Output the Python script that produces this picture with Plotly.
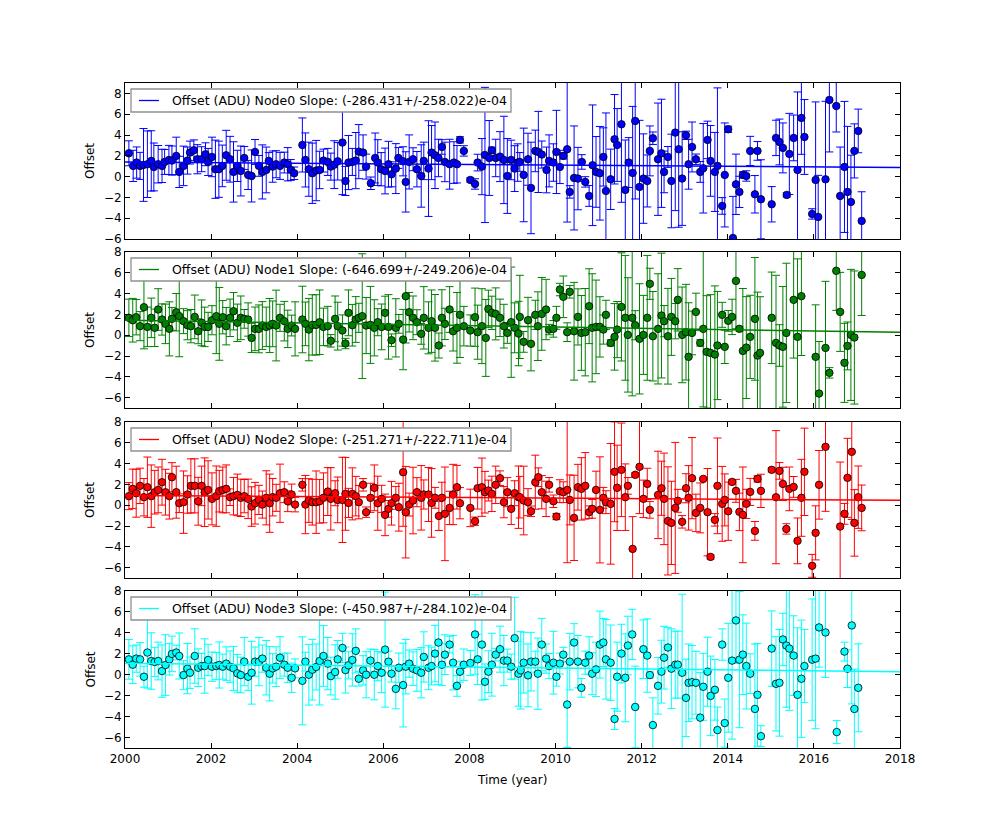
import plotly.graph_objects as go

# ---------------- data ----------------
NODE_NAMES = ["Node0", "Node1", "Node2", "Node3"]
COLORS = ["#0000ff", "#008000", "#ff0000", "#00ffff"]
SLOPES = [-286.431, -646.699, -251.271, -450.987]      # e-04 per year
SLOPE_ERRS = [258.022, 249.206, 222.711, 284.102]
FIT_AT_2000 = [1.40, 1.44, 0.93, 1.09]
Y_RANGES = [[-6, 9], [-7, 8], [-7, 8], [-7, 8]]
X_TICKS = [2000, 2002, 2004, 2006, 2008, 2010, 2012, 2014, 2016, 2018]
Y_TICKS = [-6, -4, -2, 0, 2, 4, 6, 8]

# Node0
T0 = [2000.09,2000.19,2000.27,2000.35,2000.43,2000.52,2000.61,2000.67,2000.77,2000.86,
      2000.92,2001.02,2001.09,2001.19,2001.26,2001.36,2001.45,2001.51,2001.60,2001.68,
      2001.78,2001.87,2001.93,2002.02,2002.10,2002.18,2002.26,2002.35,2002.44,2002.52,
      2002.61,2002.69,2002.77,2002.86,2002.94,2003.02,2003.11,2003.19,2003.28,2003.34,
      2003.43,2003.51,2003.60,2003.70,2003.78,2003.85,2003.93,2004.12,2004.19,2004.27,
      2004.35,2004.44,2004.52,2004.61,2004.71,2004.78,2004.86,2004.94,2005.05,2005.12,
      2005.19,2005.28,2005.36,2005.43,2005.53,2005.60,2005.71,2005.81,2005.87,2005.95,
      2006.04,2006.12,2006.19,2006.29,2006.35,2006.46,2006.52,2006.60,2006.69,2006.78,
      2006.88,2006.94,2007.05,2007.12,2007.20,2007.28,2007.36,2007.43,2007.54,2007.64,
      2007.71,2007.78,2007.87,2008.02,2008.13,2008.19,2008.29,2008.36,2008.46,2008.52,
      2008.61,2008.71,2008.80,2008.88,2008.97,2009.05,2009.12,
      2009.17,2009.26,2009.36,2009.43,2009.53,2009.60,2009.68,2009.79,2009.85,2009.95,
      2010.02,2010.10,2010.18,2010.27,2010.33,2010.43,2010.52,2010.61,2010.69,2010.78,
      2010.86,2010.94,2011.03,2011.11,2011.17,2011.28,2011.37,2011.43,2011.53,2011.62,
      2011.70,2011.79,2011.85,2011.95,2012.04,2012.13,2012.19,2012.26,2012.38,2012.46,
      2012.52,2012.61,2012.69,2012.78,2012.86,2012.94,2013.03,2013.09,2013.17,2013.26,
      2013.36,2013.43,2013.53,2013.60,2013.70,2013.76,2013.87,2013.93,2014.01,2014.12,
      2014.19,2014.27,2014.35,2014.43,2014.52,2014.63,2014.69,2014.77,2015.02,2015.12,
      2015.20,2015.28,2015.37,2015.43,2015.53,2015.62,2015.71,2015.78,2015.96,2016.04,
      2016.10,2016.27,2016.36,2016.52,2016.61,2016.71,2016.78,2016.86,2016.94,2017.03,
      2017.11]
Y0 = [2.24,1.03,1.35,1.03,1.12,1.19,1.51,0.93,1.19,1.03,
      1.41,1.60,1.54,1.99,0.45,1.03,1.54,2.31,2.53,1.67,
      1.67,2.15,1.41,1.89,0.71,0.71,1.03,2.05,1.67,0.45,
      1.03,0.54,1.79,0.16,0.06,2.37,1.03,0.45,0.64,1.51,
      0.96,1.19,1.03,1.35,1.19,0.64,0.32,3.04,1.60,0.71,
      0.32,0.58,0.64,1.54,1.41,0.96,1.15,1.47,3.27,-0.42,
      1.35,1.41,1.54,2.40,2.31,0.96,-0.64,1.79,1.35,0.71,
      0.54,1.19,0.22,0.77,1.79,1.47,-0.51,1.41,1.67,0.71,
      0.06,1.51,0.77,2.31,2.05,1.79,2.85,1.41,1.19,1.35,
      1.19,3.53,2.47,-0.32,-0.71,1.35,0.96,2.08,1.79,2.53,
      1.79,1.92,1.60,0.06,1.60,0.77,1.35,
      1.41,0.16,1.67,-1.09,2.47,2.37,2.12,0.64,1.51,1.35,
      2.37,0.93,1.99,2.63,-1.47,-0.13,-0.19,1.41,-0.51,-1.86,
      1.09,0.45,0.32,1.89,-1.38,-0.26,3.59,3.04,5.03,-1.28,
      1.35,0.35,5.35,-0.99,-0.19,-0.42,2.47,3.69,1.67,2.24,
      0.45,1.89,-0.42,4.23,2.63,-0.19,3.97,1.19,2.85,1.67,
      0.45,0.80,3.53,1.51,0.45,1.03,-2.82,0.16,4.55,-5.90,
      -0.74,-1.47,0.16,0.06,2.47,-1.70,2.47,-2.18,-2.66,3.72,
      3.33,2.76,-1.76,2.18,3.72,0.64,5.64,3.81,-3.59,-0.32,
      -3.88,-0.26,7.37,6.79,-1.86,0.93,-1.47,-2.44,2.47,4.39,
      -4.26]
E0 = [1.2,1.5,1.5,1.3,3.5,3.2,2.9,2.3,1.8,1.6,
      1.2,1.4,1.4,1.8,1.5,1.9,1.3,1.1,1.0,1.4,
      1.2,1.1,1.3,1.9,2.8,2.7,2.0,2.4,2.2,2.9,
      1.5,2.4,1.1,1.4,2.5,1.2,1.0,2.6,2.2,0.8,
      1.5,1.3,1.3,1.0,1.6,1.0,0.6,2.6,2.6,2.6,
      2.9,2.9,1.8,1.1,1.3,1.3,2.3,1.8,5.0,1.4,
      2.6,1.3,2.7,2.6,1.7,1.2,0.6,2.4,2.2,1.6,
      2.2,2.2,1.2,2.4,1.0,1.4,2.9,2.6,1.1,1.7,
      3.0,1.8,4.6,2.6,3.2,1.8,0.7,1.9,2.4,2.0,
      1.8,0.3,0.5,0.2,0.5,0.8,2.7,6.5,3.6,0.3,
      1.8,2.4,4.2,3.6,1.9,2.2,1.8,
      0.9,4.5,2.5,4.4,2.0,3.9,1.3,2.2,2.5,1.8,
      4.0,1.6,0.3,7.0,0.6,5.0,3.0,0.7,0.5,1.0,
      5.8,3.4,4.5,2.8,7.5,2.9,4.3,3.5,7.5,4.8,
      2.4,6.4,7.5,6.4,4.3,2.5,2.4,0.6,5.4,5.2,
      2.0,1.0,4.5,7.5,7.5,4.5,0.4,2.4,2.4,0.5,
      1.0,4.3,1.8,3.4,3.8,7.5,0.8,5.0,0.3,4.0,
      2.9,1.5,0.3,0.5,1.4,1.8,0.9,3.8,1.7,1.7,
      2.2,2.4,0.2,3.9,2.2,7.5,3.5,3.6,0.5,7.5,
      4.0,7.5,5.0,2.5,4.7,6.3,6.3,4.5,2.6,2.1,
      2.8]

# Node1
T1 = [2000.09,2000.18,2000.26,2000.35,2000.44,2000.52,2000.61,2000.69,2000.77,2000.86,
      2000.94,2001.03,2001.09,2001.19,2001.26,2001.36,2001.45,2001.53,2001.62,2001.70,
      2001.78,2001.85,2001.93,2002.02,2002.12,2002.19,2002.27,2002.35,2002.44,2002.52,
      2002.61,2002.69,2002.77,2002.86,2002.94,2003.02,2003.11,2003.19,2003.28,2003.36,
      2003.43,2003.51,2003.60,2003.70,2003.78,2003.87,2003.95,2004.12,2004.19,2004.27,
      2004.35,2004.44,2004.52,2004.61,2004.71,2004.78,2004.88,2004.94,2005.05,2005.12,
      2005.19,2005.28,2005.36,2005.43,2005.51,2005.60,2005.70,2005.79,2005.87,2005.96,
      2006.04,2006.12,2006.19,2006.29,2006.36,2006.46,2006.52,2006.60,2006.69,2006.78,
      2006.88,2006.94,2007.05,2007.12,2007.20,2007.29,2007.36,2007.43,2007.54,2007.62,
      2007.71,2007.78,2007.87,2008.02,2008.13,2008.19,2008.29,2008.38,2008.44,2008.52,
      2008.61,2008.71,2008.80,2008.88,2008.97,2009.05,2009.14,
      2009.17,2009.26,2009.36,2009.43,2009.53,2009.59,2009.68,2009.78,2009.85,2009.95,
      2010.02,2010.10,2010.18,2010.27,2010.33,2010.43,2010.52,2010.60,2010.69,2010.78,
      2010.85,2010.94,2011.03,2011.11,2011.17,2011.28,2011.37,2011.43,2011.53,2011.62,
      2011.68,2011.78,2011.85,2011.95,2012.04,2012.13,2012.19,2012.26,2012.38,2012.46,
      2012.52,2012.61,2012.69,2012.78,2012.84,2012.94,2013.03,2013.09,2013.17,2013.26,
      2013.36,2013.43,2013.51,2013.60,2013.70,2013.76,2013.87,2013.93,2014.01,2014.10,
      2014.19,2014.27,2014.35,2014.43,2014.52,2014.63,2014.69,2014.75,2015.02,2015.12,
      2015.20,2015.28,2015.36,2015.53,2015.62,2015.71,2016.04,2016.12,2016.27,2016.36,
      2016.52,2016.61,2016.71,2016.78,2016.86,2016.94,2017.11]
Y1 = [1.67,1.44,1.73,0.87,2.69,0.80,1.67,0.71,2.47,1.51,
      1.09,0.61,1.57,2.21,1.83,1.35,0.96,0.87,1.76,0.38,
      1.19,0.80,0.80,1.44,1.83,1.09,1.73,0.87,1.67,2.31,
      1.19,1.67,1.57,1.51,-0.26,0.61,0.61,0.93,0.80,0.93,
      1.09,0.93,1.67,1.35,0.61,0.93,0.61,1.51,1.09,0.54,
      0.99,0.99,1.25,0.80,0.87,-0.54,1.57,0.87,0.45,-0.80,
      2.15,0.96,1.51,1.67,1.83,0.93,0.99,0.71,1.25,0.80,
      2.15,0.80,-0.48,0.71,1.09,-0.42,3.75,2.21,1.67,1.25,
      0.13,1.67,0.71,1.35,0.71,-0.99,1.67,1.09,2.47,0.38,
      0.71,1.96,0.87,0.45,1.73,0.29,0.87,-0.26,2.53,2.15,
      2.05,1.67,0.87,0.22,1.25,0.71,0.16,
      1.76,-0.64,1.44,-0.83,1.96,0.87,2.05,2.47,0.54,0.61,
      1.67,4.39,3.69,0.29,4.17,0.38,1.76,0.22,0.29,2.79,
      0.71,0.80,0.80,0.54,1.96,-0.74,-0.16,0.54,2.72,1.67,
      0.03,1.67,0.96,-0.35,0.03,1.67,4.94,-0.10,0.61,1.89,
      1.35,-0.10,1.76,1.35,3.40,0.03,0.29,-2.08,0.22,2.24,
      -0.74,0.61,-1.60,-1.70,-1.86,-0.99,1.96,-1.12,1.38,1.76,
      5.22,0.61,-1.51,-1.19,-0.16,1.57,-1.96,-1.70,1.67,-0.74,
      -0.99,-1.12,0.22,3.40,-0.16,3.75,-2.08,-5.61,-1.22,-3.62,
      6.19,2.24,-2.66,-1.03,0.03,-0.22,5.80]
E1 = [1.8,2.1,1.7,1.4,4.0,1.9,1.9,1.8,2.0,1.5,
      1.9,2.6,1.1,1.8,3.9,1.2,1.4,1.6,2.1,1.2,
      2.2,1.9,1.4,1.4,3.6,3.5,1.6,1.8,1.8,1.8,
      1.8,2.1,0.9,1.6,1.4,2.1,2.3,2.3,1.9,2.6,
      2.2,3.4,1.3,1.9,1.8,1.0,2.6,3.2,2.1,3.0,
      2.9,2.9,3.1,1.8,1.9,0.6,2.2,2.3,1.5,0.5,
      2.2,2.0,2.2,1.4,6.0,2.7,3.7,2.7,1.3,2.2,
      1.6,3.1,0.6,2.8,0.9,2.9,4.5,1.9,2.1,1.2,
      1.0,3.0,2.5,3.0,3.2,1.2,2.7,1.5,2.2,1.9,
      3.4,4.1,1.9,1.5,2.8,2.6,3.6,3.7,1.8,1.6,
      2.5,1.8,2.1,1.0,5.3,2.4,3.1,
      4.0,1.0,2.2,2.6,1.4,3.3,3.5,2.9,0.5,0.8,
      1.1,0.6,2.0,0.9,0.6,4.7,2.7,3.6,4.2,3.6,
      5.2,4.5,2.9,1.4,1.4,0.3,3.2,2.7,5.2,6.0,
      5.5,7.5,1.4,5.3,3.8,6.0,1.5,4.3,5.3,6.0,
      1.5,4.6,3.7,1.7,3.0,4.6,4.6,5.2,2.1,1.8,
      0.3,7.5,5.4,5.6,6.6,5.2,1.2,1.6,1.0,1.7,
      4.6,0.2,6.0,4.9,4.0,5.9,6.1,5.4,4.4,6.5,
      2.0,5.8,6.7,5.6,7.5,5.7,5.0,5.0,6.4,0.5,
      3.8,3.8,3.8,2.3,6.3,6.4,3.9]

# Node2
T2 = [2000.09,2000.18,2000.26,2000.35,2000.44,2000.52,2000.61,2000.69,2000.77,2000.86,
      2000.94,2001.03,2001.09,2001.19,2001.26,2001.36,2001.45,2001.53,2001.62,2001.70,
      2001.78,2001.85,2001.93,2002.02,2002.12,2002.19,2002.27,2002.35,2002.44,2002.52,
      2002.61,2002.69,2002.77,2002.86,2002.94,2003.02,2003.11,2003.19,2003.28,2003.36,
      2003.43,2003.51,2003.60,2003.70,2003.78,2003.87,2003.95,2004.12,2004.19,2004.27,
      2004.35,2004.44,2004.52,2004.61,2004.71,2004.78,2004.88,2004.94,2005.05,2005.12,
      2005.19,2005.28,2005.36,2005.43,2005.53,2005.60,2005.70,2005.79,2005.87,2005.96,
      2006.04,2006.12,2006.19,2006.29,2006.36,2006.46,2006.52,2006.60,2006.69,2006.78,
      2006.88,2006.94,2007.05,2007.12,2007.20,2007.29,2007.36,2007.43,2007.54,2007.62,
      2007.71,2007.78,2008.02,2008.13,2008.19,2008.29,2008.36,2008.44,2008.52,2008.61,
      2008.71,2008.80,2008.88,2008.97,2009.05,2009.14,
      2009.17,2009.26,2009.36,2009.43,2009.53,2009.60,2009.68,2009.78,2009.85,2009.95,
      2010.02,2010.10,2010.18,2010.27,2010.33,2010.43,2010.52,2010.60,2010.69,2010.78,
      2010.85,2010.94,2011.03,2011.11,2011.17,2011.28,2011.37,2011.43,2011.53,2011.62,
      2011.68,2011.79,2011.85,2011.95,2012.04,2012.13,2012.19,2012.38,2012.46,2012.52,
      2012.61,2012.69,2012.78,2012.84,2012.94,2013.03,2013.09,2013.17,2013.26,2013.36,
      2013.43,2013.53,2013.60,2013.70,2013.76,2013.87,2013.93,2014.01,2014.10,2014.19,
      2014.27,2014.35,2014.43,2014.52,2014.63,2014.69,2014.77,2015.02,2015.12,2015.20,
      2015.28,2015.36,2015.43,2015.53,2015.62,2015.71,2015.78,2015.96,2016.04,2016.12,
      2016.27,2016.61,2016.71,2016.78,2016.88,2016.94,2017.03,2017.11]
Y2 = [0.87,1.57,1.15,1.86,0.77,1.73,0.87,1.25,1.47,2.21,
      1.25,0.87,2.69,1.25,0.19,0.29,1.03,1.86,1.86,0.38,
      1.86,1.25,1.47,0.61,0.87,1.35,1.47,1.57,0.77,0.87,
      0.99,0.71,0.87,0.61,-0.13,0.19,0.51,0.06,0.71,0.19,
      0.77,0.71,1.15,1.25,0.38,1.03,0.06,1.96,0.06,0.45,
      0.29,0.29,0.38,0.71,1.31,0.61,1.15,0.51,0.51,1.09,
      0.22,1.09,0.87,0.29,1.96,-0.67,0.71,1.67,0.19,0.61,
      -0.93,-0.35,0.19,0.71,-0.19,3.17,-0.67,0.06,0.45,1.25,
      0.71,1.03,1.03,0.22,0.71,-1.03,0.71,-0.83,-0.26,1.03,
      1.73,0.19,-0.26,-1.54,1.63,1.73,1.25,1.41,1.09,1.96,
      2.60,0.29,1.25,-0.35,1.15,0.77,
      0.77,0.45,0.29,-0.58,2.21,2.69,1.25,0.61,1.96,0.38,
      -1.09,1.35,1.25,1.47,0.51,-1.22,1.73,1.57,1.86,-0.67,
      -0.35,1.47,-0.45,0.71,0.29,0.13,3.21,1.67,3.40,0.77,
      1.86,-4.20,2.92,3.69,0.61,2.05,-0.45,0.99,1.63,0.61,
      -1.51,-1.70,-0.26,0.42,-1.60,1.63,0.71,2.60,-0.74,-0.26,
      2.53,-0.67,-4.97,-1.41,1.86,0.13,0.51,-0.58,2.24,1.38,
      -0.64,-0.93,0.13,1.28,-2.47,2.53,1.38,3.40,0.77,3.30,
      2.05,-2.28,1.57,1.76,-3.43,0.71,3.21,-5.83,-2.66,1.96,
      5.61,-2.05,-0.83,2.63,5.13,-1.70,0.77,-0.26]
E2 = [1.3,1.9,2.3,1.7,1.8,2.9,3.0,2.1,2.2,2.2,
      2.2,2.2,1.4,2.5,0.9,3.0,1.8,2.6,2.6,2.3,
      1.9,3.3,2.8,2.5,2.9,2.0,2.2,2.3,0.8,1.8,
      2.0,1.8,1.6,1.9,1.9,2.0,1.4,1.3,2.6,2.8,
      1.8,1.3,2.8,1.0,1.0,1.0,0.7,0.6,2.8,2.1,
      2.2,3.0,2.1,2.4,2.3,3.0,1.2,2.2,4.1,3.5,
      1.4,2.5,1.9,1.6,0.6,0.5,1.4,2.2,2.6,1.3,
      2.0,0.8,2.1,1.1,2.3,5.2,4.4,1.1,3.2,1.4,
      3.1,1.4,2.6,3.3,1.0,1.4,1.5,4.5,1.6,2.9,
      2.1,1.5,1.8,0.4,2.0,2.8,2.0,1.0,1.7,1.8,
      0.7,1.5,1.4,1.5,1.2,3.0,
      2.0,3.3,1.3,0.5,2.6,0.9,1.6,1.7,0.7,0.6,
      0.3,1.1,1.0,7.0,2.4,4.1,2.2,3.0,3.2,0.6,
      0.9,1.8,5.1,1.0,1.1,5.8,4.8,4.1,4.5,3.2,
      0.8,3.1,0.2,4.5,1.8,1.5,0.8,4.2,2.6,4.4,
      5.2,4.0,6.3,1.1,0.6,1.4,3.1,3.9,1.8,2.4,
      0.1,4.2,0.2,0.6,4.6,3.6,2.5,2.8,0.2,1.1,
      1.8,4.6,1.4,1.3,0.9,0.3,1.6,0.2,6.4,0.8,
      1.6,0.5,2.1,1.0,2.2,3.7,4.2,1.1,2.6,3.3,
      6.2,6.2,1.0,3.8,6.5,3.2,3.0,2.2]

# Node3
T3 = [2000.09,2000.18,2000.26,2000.35,2000.44,2000.52,2000.61,2000.69,2000.77,2000.86,
      2000.94,2001.03,2001.09,2001.19,2001.26,2001.36,2001.45,2001.51,2001.62,2001.70,
      2001.78,2001.85,2001.93,2002.02,2002.12,2002.19,2002.27,2002.35,2002.44,2002.52,
      2002.61,2002.69,2002.77,2002.86,2002.94,2003.02,2003.11,2003.19,2003.28,2003.36,
      2003.43,2003.51,2003.60,2003.70,2003.78,2003.87,2003.95,2004.12,2004.19,2004.27,
      2004.35,2004.44,2004.52,2004.61,2004.71,2004.78,2004.88,2004.94,2005.05,2005.12,
      2005.19,2005.28,2005.36,2005.43,2005.53,2005.60,2005.70,2005.79,2005.87,2005.96,
      2006.04,2006.12,2006.19,2006.29,2006.36,2006.46,2006.52,2006.60,2006.69,2006.78,
      2006.88,2006.94,2007.05,2007.12,2007.20,2007.28,2007.36,2007.43,2007.54,2007.62,
      2007.71,2007.78,2007.87,2008.02,2008.13,2008.19,2008.29,2008.36,2008.44,2008.52,
      2008.61,2008.71,2008.80,2008.88,2008.97,2009.05,2009.14,
      2009.19,2009.26,2009.36,2009.43,2009.53,2009.59,2009.68,2009.78,2009.85,2009.95,
      2010.02,2010.10,2010.18,2010.27,2010.33,2010.43,2010.52,2010.60,2010.69,2010.78,
      2010.85,2010.94,2011.03,2011.11,2011.17,2011.28,2011.37,2011.43,2011.53,2011.62,
      2011.68,2011.78,2011.85,2012.04,2012.13,2012.19,2012.26,2012.38,2012.46,2012.52,
      2012.61,2012.69,2012.78,2012.84,2012.94,2013.03,2013.09,2013.17,2013.26,2013.36,
      2013.43,2013.53,2013.60,2013.70,2013.76,2013.87,2013.93,2014.01,2014.10,2014.19,
      2014.27,2014.35,2014.43,2014.52,2014.63,2014.69,2014.77,2015.02,2015.12,2015.20,
      2015.28,2015.36,2015.43,2015.53,2015.62,2015.71,2015.78,2015.96,2016.04,2016.12,
      2016.27,2016.53,2016.71,2016.78,2016.88,2016.94,2017.03]
Y3 = [1.47,0.96,1.54,1.47,-0.19,2.12,1.31,1.22,1.31,0.35,
      0.93,1.47,1.99,2.12,1.79,-0.03,0.58,0.19,1.79,0.67,
      0.83,0.83,1.41,0.77,0.83,0.93,0.77,1.06,0.77,0.61,
      0.13,-0.03,1.25,-0.19,0.19,1.25,1.25,1.54,0.67,0.10,
      0.61,0.77,1.63,0.96,0.67,-0.29,0.61,-0.58,1.25,0.00,
      0.48,0.74,1.31,1.79,1.06,-0.13,0.26,1.47,2.56,0.45,
      0.90,1.41,2.28,-0.38,0.42,0.00,1.35,0.00,0.83,0.19,
      2.40,1.25,0.10,-1.35,0.67,-0.99,0.77,1.06,0.58,0.42,
      0.19,1.70,0.67,0.83,2.02,3.08,0.96,1.92,2.88,1.15,
      -1.06,0.29,0.96,1.12,3.85,1.47,2.88,-0.67,0.29,0.96,
      1.92,2.44,1.35,1.35,0.77,3.49,0.10,
      0.42,1.15,-0.06,1.25,1.25,0.10,2.88,1.54,0.83,1.15,
      -0.19,1.06,1.92,-2.85,1.25,3.08,1.25,-1.25,1.15,1.83,
      0.10,0.51,2.88,3.08,1.47,1.15,-4.23,-0.19,2.02,-0.29,
      2.79,3.85,-3.08,2.44,1.83,-0.03,-4.81,-1.06,0.29,1.63,
      2.60,0.58,0.96,0.96,0.19,-2.21,-0.77,-0.71,-0.77,-4.10,
      -1.15,0.29,-2.02,-1.44,-5.29,2.88,-4.62,-0.29,1.35,5.19,
      1.44,1.92,0.83,0.10,-3.27,-1.92,-5.87,2.50,-0.87,-0.77,
      3.37,2.79,2.50,1.83,-1.92,-0.38,0.83,1.44,1.54,4.52,
      4.04,-5.48,2.21,0.58,4.71,-3.27,-1.25]
E3 = [1.9,1.8,1.3,1.6,1.0,3.4,2.7,1.4,1.8,2.5,
      2.9,1.5,1.7,0.7,2.2,1.4,2.4,1.5,2.6,1.8,
      1.2,2.6,1.5,1.4,1.3,2.2,1.2,1.6,1.5,2.1,
      1.8,1.7,2.3,1.3,3.0,1.4,2.3,1.3,2.6,2.6,
      1.4,1.9,2.0,1.1,1.4,1.4,0.9,4.2,0.9,2.9,
      2.9,2.2,4.2,2.9,2.5,1.8,2.6,1.8,1.4,2.2,
      1.3,2.5,2.1,0.7,1.4,2.2,1.1,2.4,1.4,1.9,
      5.5,1.0,0.8,1.9,1.4,4.0,2.6,1.3,1.6,2.0,
      2.4,2.4,2.1,1.8,2.7,4.0,2.0,1.9,0.8,2.6,
      1.0,1.0,1.5,1.2,3.8,2.4,5.3,1.7,2.0,3.0,
      0.6,2.2,2.4,1.1,1.2,3.9,3.1,
      3.7,2.9,3.0,2.8,1.0,3.4,2.5,1.4,1.2,3.0,
      0.9,1.0,0.7,4.1,2.7,1.8,2.5,0.9,1.1,1.8,
      2.0,2.6,3.2,2.3,3.8,3.6,1.0,3.3,2.8,4.2,
      2.8,2.4,3.9,2.8,3.5,0.3,2.6,2.7,3.0,3.0,
      1.9,3.8,3.2,3.2,7.5,3.7,3.7,3.5,3.0,4.3,
      3.2,3.3,3.8,2.9,2.2,1.5,2.3,5.2,7.5,4.1,
      6.5,3.8,4.1,1.9,6.2,4.9,1.0,3.6,4.5,5.1,
      2.5,5.9,5.9,3.8,6.4,5.6,3.5,5.8,6.7,3.8,
      4.3,1.1,0.9,1.8,7.5,3.8,4.2]

TIMES = [T0, T1, T2, T3]
VALUES = [Y0, Y1, Y2, Y3]
ERRORS = [E0, E1, E2, E3]

# ---------------- layout geometry ----------------
# The page body has an 8 px margin, so the figure is drawn 8 px in from the
# window's top-left corner; all pixel positions below are figure coordinates.
PAGE_OFF = 8
W, H = 1000 - PAGE_OFF, 832 - PAGE_OFF
ML, MR, MT, MB = 125 - PAGE_OFF, 100, 83 - PAGE_OFF, 84
PANEL_PX = [(83, 239), (252, 408), (422, 578), (591, 748)]   # window px: top, bottom
plot_h = H - MT - MB
plot_w = W - ML - MR

FONT = "DejaVu Sans"
fig = go.Figure()

for i in range(4):
    n = "" if i == 0 else str(i + 1)
    xa, ya = "x" + n, "y" + n
    c = COLORS[i]
    fig.add_trace(go.Scatter(
        x=TIMES[i], y=VALUES[i], mode="markers",
        marker=dict(color=c, size=7.5, line=dict(color="black", width=0.8)),
        error_y=dict(type="data", array=ERRORS[i], color=c, thickness=1, width=4),
        xaxis=xa, yaxis=ya, showlegend=False, hoverinfo="x+y"))
    b = SLOPES[i] * 1e-4
    fig.add_trace(go.Scatter(
        x=[X_TICKS[0], X_TICKS[-1]],
        y=[FIT_AT_2000[i], FIT_AT_2000[i] + b * (X_TICKS[-1] - X_TICKS[0])],
        mode="lines", line=dict(color=c, width=1.5),
        xaxis=xa, yaxis=ya, showlegend=False, hoverinfo="skip"))

    top, bot = PANEL_PX[i]
    top -= PAGE_OFF
    bot -= PAGE_OFF
    dom = [(H - MB - bot) / plot_h, (H - MB - top) / plot_h]
    axis_common = dict(showline=True, linecolor="black", linewidth=1, mirror="allticks",
                       ticks="inside", ticklen=5, tickcolor="black", showgrid=False,
                       zeroline=False, tickfont=dict(family=FONT, size=12, color="black"))
    fig.layout["xaxis" + n] = dict(
        axis_common, domain=[0, 1], range=[X_TICKS[0], X_TICKS[-1]], tickvals=X_TICKS,
        anchor=ya, showticklabels=(i == 3), **({} if i == 0 else {"matches": "x"}))
    fig.layout["yaxis" + n] = dict(
        axis_common, domain=dom, range=Y_RANGES[i], tickvals=Y_TICKS, anchor=xa)

    # legend box drawn in the panel's domain coordinates (window px converted)
    ph = bot - top
    box_top, box_bot = 1 - 6 / ph, 1 - 29 / ph
    ymid = (box_top + box_bot) / 2
    fig.add_shape(type="rect", xref=xa + " domain", yref=ya + " domain",
                  x0=(131 - 125) / plot_w, x1=(511 - 125) / plot_w, y0=box_bot, y1=box_top,
                  line=dict(color="#909090", width=1.3), fillcolor="white", layer="above")
    fig.add_shape(type="line", xref=xa + " domain", yref=ya + " domain",
                  x0=(139 - 125) / plot_w, x1=(159 - 125) / plot_w, y0=ymid, y1=ymid,
                  line=dict(color=c, width=1.3), layer="above")
    label = "Offset (ADU) %s Slope: (%.3f+/-%.3f)e-04" % (NODE_NAMES[i], SLOPES[i], SLOPE_ERRS[i])
    fig.add_annotation(xref=xa + " domain", yref=ya + " domain", x=(170 - 125) / plot_w, y=ymid,
                       text=label, showarrow=False, xanchor="left", yanchor="middle",
                       font=dict(family=FONT, size=12.5, color="black"))
    # y axis title
    fig.add_annotation(xref="paper", yref=ya + " domain", x=(90 - 125) / plot_w, y=0.5,
                       text="Offset", textangle=-90, showarrow=False,
                       xanchor="center", yanchor="middle",
                       font=dict(family=FONT, size=12, color="black"))

fig.add_annotation(xref="paper", yref="paper", x=(512 - 125) / plot_w,
                   y=(H - MB - (780 - PAGE_OFF)) / plot_h, text="Time (year)", showarrow=False,
                   xanchor="center", yanchor="middle",
                   font=dict(family=FONT, size=12, color="black"))

fig.update_layout(width=W, height=H, margin=dict(l=ML, r=MR, t=MT, b=MB),
                  paper_bgcolor="white", plot_bgcolor="white",
                  font=dict(family=FONT, size=12, color="black"), showlegend=False)

fig.write_html("out.html")
